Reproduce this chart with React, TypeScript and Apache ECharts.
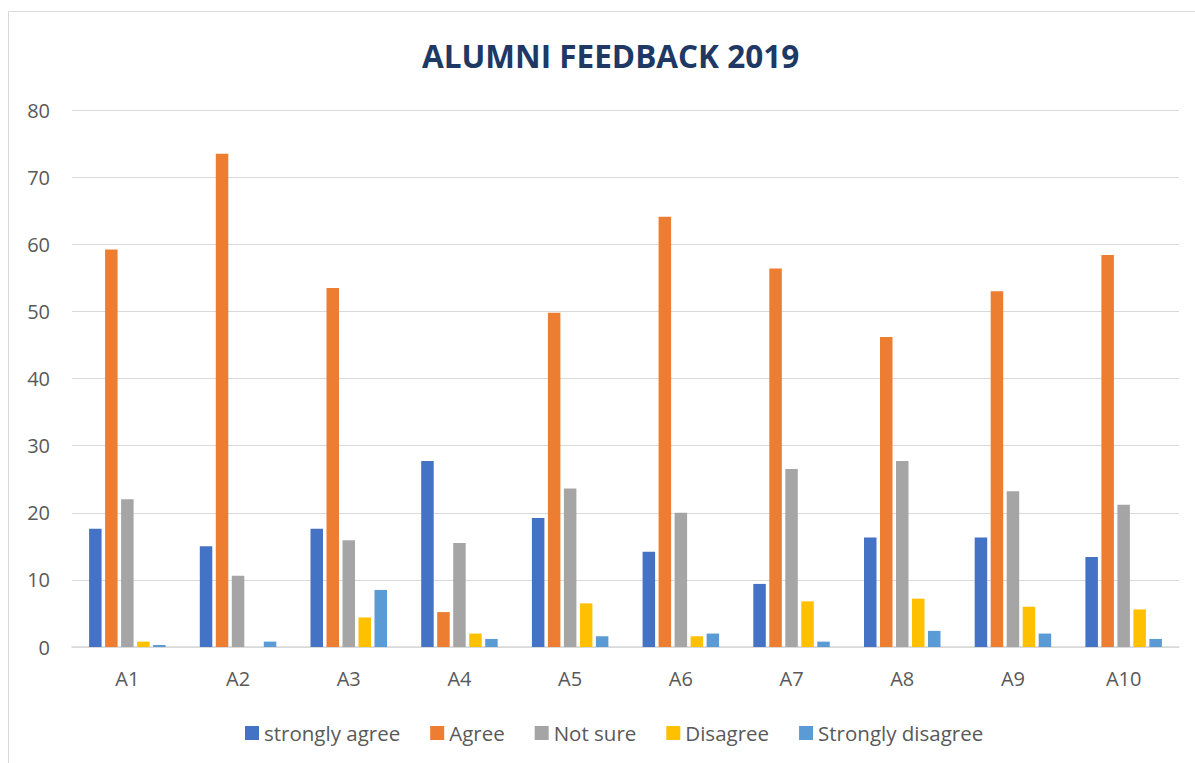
import React, { useEffect, useRef } from "react";
import * as echarts from "echarts";

const categories = ["A1", "A2", "A3", "A4", "A5", "A6", "A7", "A8", "A9", "A10"];
const seriesNames = ["strongly agree", "Agree", "Not sure", "Disagree", "Strongly disagree"];
const stronglyAgree = [17.6, 15.0, 17.6, 27.7, 19.2, 14.2, 9.4, 16.3, 16.3, 13.4];
const agree = [59.2, 73.5, 53.5, 5.2, 49.8, 64.1, 56.4, 46.2, 53.0, 58.4];
const notSure = [22.0, 10.6, 15.9, 15.5, 23.6, 20.0, 26.5, 27.7, 23.2, 21.2];
const disagree = [0.8, 0, 4.4, 2.0, 6.5, 1.6, 6.8, 7.2, 6.0, 5.6];
const stronglyDisagree = [0.3, 0.8, 8.5, 1.2, 1.6, 2.0, 0.8, 2.4, 2.0, 1.2];
const colors = ["#4472C4", "#ED7D31", "#A5A5A5", "#FFC000", "#5B9BD5"];
const yTicks = { min: 0, max: 80, interval: 10 };

const FONT = "'Open Sans', 'Noto Sans', sans-serif";

export default function App() {
  const ref = useRef<HTMLDivElement>(null);
  useEffect(() => {
    if (!ref.current) return;
    const chart = echarts.init(ref.current, null, { renderer: "svg" });
    const data = [stronglyAgree, agree, notSure, disagree, stronglyDisagree];
    chart.setOption({
      animation: false,
      backgroundColor: "#ffffff",
      title: {
        text: "ALUMNI FEEDBACK 2019",
        left: 417,
        top: 34,
        textStyle: { fontFamily: FONT, fontSize: 31.5, fontWeight: "bold", color: "#203864" },
      },
      graphic: [
        {
          type: "rect",
          shape: { x: 8.5, y: 11.5, width: 1300, height: 900 },
          style: { fill: "none", stroke: "#D9D9D9", lineWidth: 1 },
          silent: true,
        },
      ],
      legend: {
        left: 240,
        top: 717,
        itemWidth: 14,
        itemHeight: 14,
        itemGap: 30,
        icon: "rect",
        data: seriesNames,
        textStyle: { fontFamily: FONT, fontSize: 20.5, color: "#595959", lineHeight: 22 },
      },
      grid: { left: 72, right: 16, top: 110, bottom: 116 },
      xAxis: {
        type: "category",
        data: categories,
        axisTick: { show: false },
        axisLine: { lineStyle: { color: "#D9D9D9", width: 1.5 } },
        axisLabel: { fontFamily: FONT, fontSize: 20, color: "#595959", margin: 21 },
      },
      yAxis: {
        type: "value",
        min: yTicks.min,
        max: yTicks.max,
        interval: yTicks.interval,
        axisLine: { show: false },
        axisTick: { show: false },
        splitLine: { lineStyle: { color: "#D9D9D9", width: 1 } },
        axisLabel: { fontFamily: FONT, fontSize: 20, color: "#595959", margin: 22 },
      },
      series: seriesNames.map((name, i) => ({
        name,
        type: "bar",
        data: data[i],
        barWidth: 12.5,
        barGap: "28%",
        itemStyle: { color: colors[i] },
      })),
    });
    return () => chart.dispose();
  }, []);
  return (
    <div
      ref={ref}
      style={{ position: "fixed", left: 0, top: 0, width: 1195, height: 763 }}
    />
  );
}
